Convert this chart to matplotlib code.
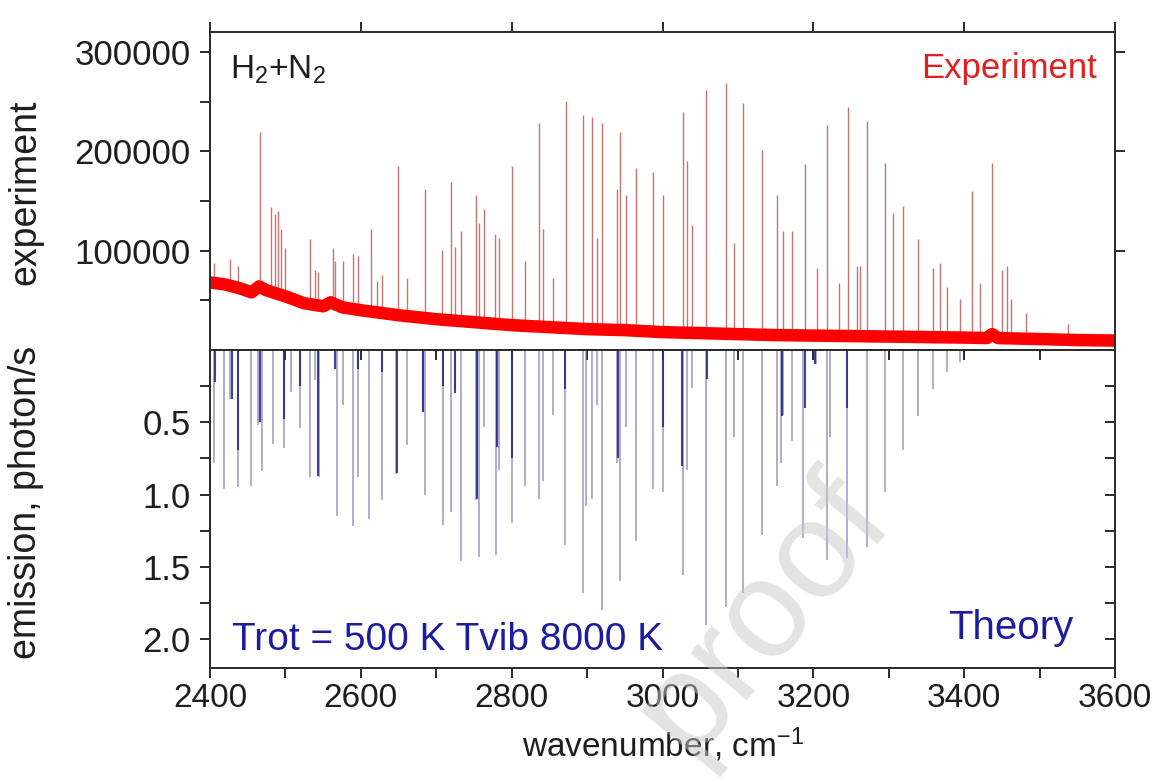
import matplotlib
matplotlib.use("Agg")
import matplotlib.pyplot as plt
from matplotlib.ticker import MultipleLocator, FixedLocator, FormatStrFormatter

plt.rcParams['font.family'] = ['Liberation Sans', 'DejaVu Sans']
plt.rcParams['mathtext.fontset'] = 'custom'
plt.rcParams['mathtext.rm'] = 'Liberation Sans'
plt.rcParams['mathtext.it'] = 'Liberation Sans:italic'

base_wn = [2400, 2420, 2440, 2455, 2465, 2475, 2500, 2525, 2550, 2560, 2575, 2600,
           2650, 2700, 2750, 2800, 2850, 2900, 2950, 3000, 3050, 3100, 3150, 3200,
           3250, 3300, 3350, 3400, 3430, 3437, 3445, 3500, 3550, 3600]
base_val = [68000, 66000, 62000, 58000, 64000, 60000, 54000, 47000, 44000, 48000, 43000, 40000,
            35000, 31000, 28000, 25000, 23000, 21000, 20000, 18000, 17000, 16000, 15000, 14500,
            14000, 13500, 13000, 12500, 12000, 16000, 12000, 11000, 10000, 9500]

# experiment: line peaks
exp_wn = [2405, 2427, 2437, 2466, 2481, 2486, 2490, 2494, 2499, 2533, 2539, 2543, 2563, 2566, 2576, 2590, 2596, 2613, 2622, 2628,
          2649, 2661, 2685, 2708, 2720, 2725, 2733, 2753, 2757, 2763, 2778, 2783, 2800, 2818, 2836, 2842, 2855, 2872,
          2895, 2906, 2913, 2920, 2940, 2944, 2952, 2965, 2987, 3000, 3027, 3032, 3039, 3058, 3084, 3095, 3107, 3132,
          3152, 3160, 3172, 3189, 3205, 3218, 3234, 3246, 3258, 3262, 3271, 3295, 3306, 3319, 3339, 3359, 3368,
          3377, 3394, 3410, 3421, 3437, 3450, 3457, 3462, 3482, 3538]
exp_val = [88000, 92000, 85000, 219000, 144000, 137000, 140000, 122000, 103000, 112000, 81000, 79000, 103000, 90000, 90000, 97000, 95000, 122000, 69000, 76000,
           185000, 72000, 162000, 101000, 169000, 104000, 120000, 156000, 128000, 142000, 117000, 113000, 185000, 90000, 229000, 122000, 72000, 251000,
           237000, 235000, 113000, 228000, 162000, 219000, 156000, 183000, 179000, 156000, 240000, 190000, 126000, 262000, 269000, 108000, 249000, 201000,
           156000, 120000, 120000, 187000, 83000, 226000, 67000, 245000, 85000, 85000, 231000, 188000, 138000, 145000, 112000, 83000, 88000,
           63000, 51000, 160000, 67000, 188000, 81000, 85000, 51000, 37000, 26000]

# theory: emission lines, photon/s
theory_wn = [2405, 2419, 2427, 2437, 2454, 2464, 2469, 2484, 2498, 2507, 2519, 2533, 2539, 2545, 2568, 2576, 2590, 2596, 2611, 2628,
             2647, 2661, 2682, 2685, 2709, 2720, 2725, 2733, 2753, 2757, 2763, 2779, 2783, 2800, 2818, 2836, 2842, 2855, 2871,
             2895, 2899, 2906, 2913, 2920, 2940, 2944, 2952, 2965, 2987, 3000, 3027, 3032, 3039, 3058, 3084, 3095, 3107, 3132,
             3152, 3157, 3160, 3172, 3186, 3204, 3218, 3222, 3245, 3271, 3295, 3319, 3339, 3359, 3377, 3394]
theory_val = [0.78, 0.96, 0.34, 0.95, 0.94, 0.52, 0.84, 0.65, 0.68, 0.29, 0.54, 0.88, 0.21, 0.88, 1.15, 0.38, 1.22, 0.88, 1.17, 1.04,
              0.86, 0.66, 0.43, 1.00, 1.21, 1.12, 0.28, 1.46, 1.04, 1.43, 0.53, 1.42, 0.83, 1.20, 0.94, 1.03, 0.91, 0.45, 1.35,
              1.68, 1.08, 1.03, 0.38, 1.80, 0.78, 1.60, 0.53, 1.32, 0.96, 0.98, 1.56, 0.83, 0.26, 1.90, 1.78, 0.60, 1.68, 1.28,
              0.94, 0.78, 0.45, 0.63, 1.30, 0.10, 1.45, 0.60, 1.44, 1.36, 0.98, 0.69, 0.46, 0.27, 0.15, 0.08]

# theory: strong (dark) line groups near the top
dark_wn = [2407, 2429, 2437, 2466, 2498, 2519, 2543, 2566, 2596, 2628, 2648, 2682, 2709,
           2725, 2754, 2780, 2800, 2871, 2941, 3001, 3026, 3059, 3158, 3189, 3202, 3245]
dark_val = [0.22, 0.34, 0.69, 0.50, 0.48, 0.25, 0.87, 0.13, 0.13, 0.15, 0.85, 0.43, 0.25,
            0.30, 1.03, 0.67, 0.75, 0.27, 0.75, 0.53, 0.80, 0.20, 0.46, 0.40, 0.10, 0.40]

spine_col = '#2a2a2a'
text_col = '#1e1e1e'
fig = plt.figure(figsize=(11.65, 7.83), dpi=100)
ax1 = fig.add_axes([0.1803, 0.553, 0.7768, 0.406])
ax2 = fig.add_axes([0.1803, 0.147, 0.7768, 0.406])

# top panel: experiment
ax1.vlines(exp_wn, 0, exp_val, color='#a82828', lw=1.0, alpha=0.65, zorder=1)
ax1.fill_between(base_wn, 0, base_val, color='white', lw=0, zorder=1.5)
ax1.plot(base_wn, base_val, color='#ff0000', lw=9, solid_capstyle='butt', zorder=2)
ax1.set_xlim(2400, 3600)
ax1.set_ylim(0, 320000)
ax1.yaxis.set_major_locator(FixedLocator([100000, 200000, 300000]))
ax1.yaxis.set_minor_locator(FixedLocator([50000, 150000, 250000]))
ax1.yaxis.set_major_formatter(FormatStrFormatter('%d'))
ax1.xaxis.set_major_locator(MultipleLocator(200))
ax1.tick_params(axis='y', which='both', left=True, right=True, direction='out',
                labelsize=25, pad=7, color=spine_col, width=1.4, labelcolor=text_col)
ax1.tick_params(axis='y', which='major', length=7)
ax1.tick_params(axis='y', which='minor', length=7, right=False)
ax1.tick_params(axis='x', which='both', bottom=False, top=True, labelbottom=False,
                direction='out', length=7, width=1.4, color=spine_col)
ax1.text(0.022, 0.88, r'H$_\mathrm{2}$+N$_\mathrm{2}$', transform=ax1.transAxes,
         fontsize=24, va='center', ha='left', color=text_col)
ax1.text(0.98, 0.887, 'Experiment', transform=ax1.transAxes,
         fontsize=25, va='center', ha='right', color='#e02020')

# bottom panel: theory (inverted axis)
ax2.vlines(theory_wn, 0, theory_val, color='#7a7aa8', lw=1.2, alpha=0.7, zorder=1)
ax2.vlines(dark_wn, 0, dark_val, color='#22228a', lw=1.5, alpha=0.85, zorder=1.5)
ax2.set_xlim(2400, 3600)
ax2.set_ylim(2.2, 0)
ax2.yaxis.set_major_locator(FixedLocator([0.5, 1.0, 1.5, 2.0]))
ax2.yaxis.set_minor_locator(FixedLocator([0.25, 0.75, 1.25, 1.75]))
ax2.yaxis.set_major_formatter(FormatStrFormatter('%.1f'))
ax2.xaxis.set_major_locator(MultipleLocator(200))
ax2.xaxis.set_minor_locator(MultipleLocator(100))
ax2.tick_params(axis='y', which='both', left=True, right=False, direction='out',
                length=7, width=1.4, labelsize=25, pad=7, color=spine_col, labelcolor=text_col)
ax2.tick_params(axis='x', which='both', bottom=True, top=False, direction='out',
                length=7, width=1.4, labelsize=24, pad=4, color=spine_col, labelcolor=text_col)

sec_y = ax2.secondary_yaxis('right')
sec_y.yaxis.set_major_locator(MultipleLocator(0.25))
sec_y.tick_params(direction='in', length=7, width=1.4, labelright=False, color=spine_col)
sec_x = ax2.secondary_xaxis('top')
sec_x.xaxis.set_major_locator(MultipleLocator(100))
sec_x.tick_params(direction='in', length=7, width=1.4, labeltop=False, color=spine_col)
for sec in (sec_y, sec_x):
    for s in sec.spines.values():
        s.set_visible(False)

ax2.text(0.024, 0.088, 'Trot = 500 K Tvib 8000 K', transform=ax2.transAxes,
         fontsize=28, va='center', ha='left', color='#1c1ca0')
ax2.text(0.954, 0.126, 'Theory', transform=ax2.transAxes,
         fontsize=29, va='center', ha='right', color='#1c1ca0')

for ax in (ax1, ax2):
    for s in ax.spines.values():
        s.set_linewidth(1.4)
        s.set_color(spine_col)

fig.text(0.022, 0.755, 'experiment', rotation=90, fontsize=27, va='center', ha='center', color=text_col)
fig.text(0.022, 0.358, 'emission, photon/s', rotation=90, fontsize=27, va='center', ha='center', color=text_col)
fig.text(0.569, 0.049, r'wavenumber, cm$^{-1}$', fontsize=24, va='center', ha='center', color=text_col)

# watermark
fig.text(0.655, 0.215, 'proof', rotation=50, fontsize=100, va='center', ha='center',
         color='#c8c8c8', alpha=0.5, zorder=10)

fig.savefig('out.png', dpi=100)
